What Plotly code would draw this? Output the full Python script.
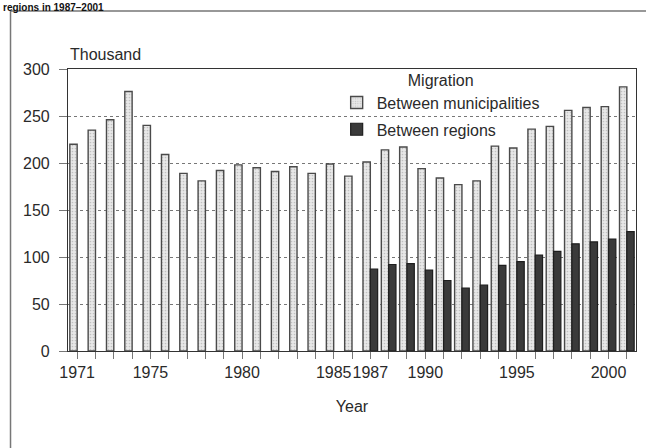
import plotly.graph_objects as go

years = [str(y) for y in range(1971, 2002)]
municipalities = [220, 235, 246, 276, 240, 209, 189, 181, 192, 198, 195, 191, 196, 189, 199,
                  186, 201, 214, 217, 194, 184, 177, 181, 218, 216, 236, 239, 256, 259, 260, 281]
regions = [None] * 16 + [87, 92, 93, 86, 75, 67, 70, 91, 95, 102, 106, 114, 116, 119, 127]
tick_labels = {"1971": "1971", "1975": "1975", "1980": "1980", "1985": "1985",
               "1987": "1987", "1990": "1990", "1995": "1995", "2000": "2000"}

FONT = "Liberation Sans Narrow, Arial Narrow, Liberation Sans, Arial, sans-serif"

fig = go.Figure()
fig.add_trace(go.Bar(
    x=years, y=municipalities, name="Between municipalities", legendgroup="m",
    marker=dict(color="#e4e4e4", line=dict(color="#4a4a4a", width=1.4),
                pattern=dict(shape=".", size=3, solidity=0.25, fgcolor="#9a9a9a", bgcolor="#e8e8e8")),
))
fig.add_trace(go.Bar(
    x=years, y=regions, name="Between regions", legendgroup="r",
    marker=dict(color="#3a3a3a", line=dict(color="#1e1e1e", width=1.2)),
))

fig.update_layout(
    width=646, height=448,
    margin=dict(l=68, r=10, t=69, b=97),
    paper_bgcolor="white", plot_bgcolor="white",
    barmode="group", bargap=0.2, bargroupgap=0,
    font=dict(family=FONT, size=16, color="#2a2a2a"),
    showlegend=True,
    legend=dict(
        x=0.473, y=1.015, xanchor="left", yanchor="top",
        bgcolor="rgba(0,0,0,0)",
        title=dict(text="Migration", side="top center", font=dict(size=16)),
        font=dict(size=16), traceorder="grouped",
        itemwidth=30, tracegroupgap=3,
    ),
    xaxis=dict(
        type="category", categoryorder="array", categoryarray=years,
        tickmode="array", tickvals=years,
        ticktext=[tick_labels.get(y, "") for y in years],
        ticks="outside", ticklen=7, tickcolor="#777", tickwidth=1,
        showline=True, linecolor="#333", linewidth=1.2, mirror=True,
        showgrid=False, tickangle=0,
        title=dict(text="Year", standoff=20, font=dict(size=16)),
    ),
    yaxis=dict(
        range=[0, 300], tickvals=[0, 50, 100, 150, 200, 250, 300],
        ticks="outside", ticklen=8, tickcolor="#777", tickwidth=1,
        showline=True, linecolor="#333", linewidth=1.2, mirror=True,
        showgrid=True, gridcolor="#777", griddash="dot", gridwidth=1,
        zeroline=False, ticklabelstandoff=6,
    ),
    annotations=[
        dict(text="Thousand", xref="paper", yref="paper", x=0.0, y=1.053,
             xanchor="left", yanchor="middle", showarrow=False, font=dict(size=16)),
        dict(text="<b>regions in 1987–2001</b>", xref="paper", yref="paper",
             x=-0.118, y=1.2447, xanchor="left", yanchor="top", showarrow=False,
             font=dict(size=10, color="#111")),
    ],
    shapes=[
        dict(type="rect", xref="paper", yref="paper", x0=-0.1012, x1=1.03, y0=-0.36, y1=1.2057,
             line=dict(color="#777", width=1.5), fillcolor="rgba(0,0,0,0)", layer="below"),
    ],
)

fig.write_html("out.html", config={"displayModeBar": False},
               post_script="document.body.style.margin='0';")
